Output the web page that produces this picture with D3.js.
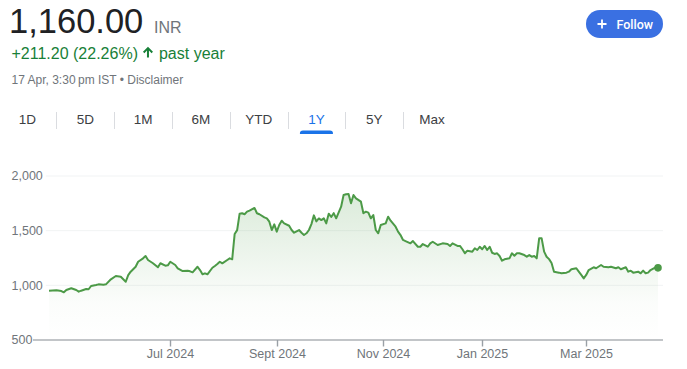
<!DOCTYPE html>
<html><head><meta charset="utf-8">
<script src="https://cdn.jsdelivr.net/npm/d3@7"></script>
<style>
html,body{margin:0;padding:0;background:#fff;}
svg{display:block;font-family:"Liberation Sans",Arial,sans-serif;}
</style></head><body>
<svg id="c" width="687" height="369"></svg>
<script>
// ---- data ----
const priceText = "1,160.00";
const currency = "INR";
const changeText = "+211.20 (22.26%)";
const changeSuffix = "past year";
const stampText = "17 Apr, 3:30\u2009pm IST \u2022 Disclaimer";
const rangeLabels = ["1D","5D","1M","6M","YTD","1Y","5Y","Max"];
const selectedRange = "1Y";
const yTicks = [500, 1000, 1500, 2000];
const xTickDates = ["2024-07-01","2024-09-02","2024-11-01","2025-01-01","2025-03-03"];
const xTickLabels = ["Jul 2024","Sept 2024","Nov 2024","Jan 2025","Mar 2025"];
const holidays = ["2024-05-01","2024-05-20","2024-06-17","2024-07-17","2024-08-15","2024-10-02",
  "2024-11-15","2024-11-20","2024-12-25","2025-02-26","2025-03-14","2025-03-31","2025-04-10","2025-04-14"];
const dates = [
"2024-04-18","2024-04-23","2024-04-25","2024-04-26","2024-04-29","2024-05-02","2024-05-06","2024-05-07","2024-05-08","2024-05-10",
"2024-05-13","2024-05-14","2024-05-16","2024-05-17","2024-05-22","2024-05-23","2024-05-27","2024-05-29","2024-05-31","2024-06-04",
"2024-06-05","2024-06-06","2024-06-10","2024-06-11","2024-06-13","2024-06-14","2024-06-18","2024-06-20","2024-06-24","2024-06-25",
"2024-06-27","2024-06-28","2024-07-01","2024-07-03","2024-07-04","2024-07-08","2024-07-10","2024-07-11","2024-07-12","2024-07-16",
"2024-07-18","2024-07-19","2024-07-22","2024-07-23","2024-07-25","2024-07-26","2024-07-29","2024-07-30","2024-07-31","2024-08-02",
"2024-08-05","2024-08-06","2024-08-07","2024-08-08","2024-08-09","2024-08-12","2024-08-13","2024-08-14","2024-08-16","2024-08-20",
"2024-08-21","2024-08-22","2024-08-26","2024-08-27","2024-08-28","2024-08-29","2024-08-30","2024-09-02","2024-09-03","2024-09-04",
"2024-09-05","2024-09-09","2024-09-10","2024-09-11","2024-09-13","2024-09-16","2024-09-17","2024-09-18","2024-09-19","2024-09-20",
"2024-09-23","2024-09-24","2024-09-25","2024-09-26","2024-09-27","2024-09-30","2024-10-01","2024-10-03","2024-10-04","2024-10-07",
"2024-10-09","2024-10-10","2024-10-11","2024-10-14","2024-10-15","2024-10-16","2024-10-17","2024-10-21","2024-10-22","2024-10-23",
"2024-10-24","2024-10-25","2024-10-28","2024-10-29","2024-10-30","2024-10-31","2024-11-04","2024-11-05","2024-11-06","2024-11-08",
"2024-11-11","2024-11-12","2024-11-13","2024-11-14","2024-11-19","2024-11-21","2024-11-25","2024-11-26","2024-11-27","2024-11-29",
"2024-12-02","2024-12-03","2024-12-05","2024-12-09","2024-12-11","2024-12-12","2024-12-13","2024-12-17","2024-12-18","2024-12-19",
"2024-12-20","2024-12-23","2024-12-26","2024-12-27","2024-12-30","2024-12-31","2025-01-01","2025-01-02","2025-01-03","2025-01-06",
"2025-01-07","2025-01-08","2025-01-09","2025-01-10","2025-01-13","2025-01-14","2025-01-16","2025-01-17","2025-01-20","2025-01-21",
"2025-01-22","2025-01-24","2025-01-27","2025-01-28","2025-01-29","2025-01-30","2025-01-31","2025-02-03","2025-02-04","2025-02-05",
"2025-02-06","2025-02-07","2025-02-10","2025-02-11","2025-02-13","2025-02-14","2025-02-18","2025-02-19","2025-02-20","2025-02-24",
"2025-02-25","2025-02-27","2025-02-28","2025-03-03","2025-03-04","2025-03-06","2025-03-07","2025-03-11","2025-03-12","2025-03-17",
"2025-03-18","2025-03-20","2025-03-21","2025-03-24","2025-03-26","2025-03-27","2025-03-28","2025-04-01","2025-04-03","2025-04-04",
"2025-04-07","2025-04-08","2025-04-09","2025-04-11","2025-04-16","2025-04-17"];
const values = [
950,955,948,936,957,973,957,942,951,966,
964,994,1003,1009,1006,1009,1055,1085,1079,1033,
1094,1125,1170,1216,1247,1268,1232,1202,1165,1202,
1180,1183,1216,1186,1156,1131,1134,1128,1119,1170,
1140,1101,1110,1101,1161,1177,1195,1216,1201,1232,
1247,1238,1470,1505,1655,1659,1650,1674,1683,1708,
1659,1650,1622,1613,1582,1506,1558,1491,1552,1591,
1567,1545,1506,1481,1506,1481,1460,1476,1506,1560,
1640,1585,1612,1597,1613,1567,1655,1625,1660,1613,
1719,1826,1833,1835,1750,1826,1796,1765,1659,1674,
1665,1613,1643,1506,1476,1552,1567,1628,1591,1536,
1491,1460,1415,1405,1384,1405,1353,1353,1378,1353,
1384,1399,1369,1384,1378,1360,1384,1360,1360,1330,
1293,1317,1308,1339,1323,1353,1330,1360,1323,1353,
1298,1287,1293,1268,1225,1238,1247,1293,1271,1293,
1293,1277,1262,1277,1262,1268,1247,1430,1430,1308,
1262,1240,1205,1125,1116,1110,1116,1125,1147,1156,
1125,1095,1064,1095,1140,1165,1156,1186,1170,1165,
1170,1156,1165,1147,1165,1125,1134,1116,1125,1110,
1134,1110,1116,1140,1165,1160];

// ---- styles ----
const GREEN_LINE = "#4c9a47";
const GREEN_TEXT = "#188038";
const BLUE = "#1a73e8";
const GRAY_TEXT = "#70757a";
const DARK_TEXT = "#202124";

const svg = d3.select("#c");
const fmt = d3.timeFormat("%Y-%m-%d");
const parse = d3.timeParse("%Y-%m-%d");

// trading calendar (weekdays minus exchange holidays)
const holidaySet = new Set(holidays);
const tradingDays = d3.timeDay.range(parse(dates[0]), d3.timeDay.offset(parse(dates[dates.length-1]), 1))
  .filter(d => d.getDay() !== 0 && d.getDay() !== 6 && !holidaySet.has(fmt(d)));
const dayIndex = new Map(tradingDays.map((d, i) => [fmt(d), i]));

const data = dates.map((d, i) => ({ idx: dayIndex.get(d), v: values[i] }));

const x = d3.scaleLinear().domain([0, tradingDays.length - 1]).range([49, 658]);
const y = d3.scaleLinear().domain([500, 2000]).range([340, 176]);
const plotRight = 663;

// ---- header ----
svg.append("text").attr("x", 9).attr("y", 33).attr("font-size", 34.5).attr("fill", DARK_TEXT).text(priceText);
svg.append("text").attr("x", 154).attr("y", 33).attr("font-size", 16).attr("fill", GRAY_TEXT).text(currency);

const ch = svg.append("text").attr("x", 11.5).attr("y", 58.5).attr("font-size", 16).attr("fill", GREEN_TEXT).text(changeText);
const chW = ch.node().getComputedTextLength();
const ax = 11.5 + chW + 10;
svg.append("path")
  .attr("d", `M${ax},46.8 L${ax+5},51.8 L${ax+3.6},53.2 L${ax+1},50.6 L${ax+1},57.5 L${ax-1},57.5 L${ax-1},50.6 L${ax-3.6},53.2 L${ax-5},51.8 Z`)
  .attr("fill", GREEN_TEXT);
svg.append("text").attr("x", ax + 11).attr("y", 58.5).attr("font-size", 16).attr("fill", GREEN_TEXT).text(changeSuffix);

svg.append("text").attr("x", 11.5).attr("y", 84).attr("font-size", 12).attr("fill", GRAY_TEXT).text(stampText);

// Follow button
const fb = svg.append("g");
fb.append("rect").attr("x", 586).attr("y", 10).attr("width", 77).attr("height", 28).attr("rx", 14).attr("fill", "#3a70e2");
fb.append("path").attr("d", "M597.5,24 H606.5 M602,19.5 V28.5").attr("stroke", "#fff").attr("stroke-width", 1.8);
fb.append("text").attr("x", 616.5).attr("y", 28.5).attr("font-size", 12.5).attr("font-family", "Roboto, Arial, sans-serif")
  .attr("font-weight", 500).attr("fill", "#fff").text("Follow");

// range tabs
const tabX = d3.scalePoint().domain(rangeLabels).range([27.5, 432]);
const tabs = svg.append("g");
rangeLabels.forEach((r, i) => {
  tabs.append("text").attr("x", tabX(r)).attr("y", 124).attr("text-anchor", "middle")
    .attr("font-size", 13.5).attr("fill", r === selectedRange ? BLUE : "#3c4043").text(r);
  if (i < rangeLabels.length - 1) {
    const sx = Math.round((tabX(r) + tabX(rangeLabels[i+1])) / 2) + 0.5;
    tabs.append("line").attr("x1", sx).attr("x2", sx).attr("y1", 112).attr("y2", 129).attr("stroke", "#dadce0");
  }
});
const ux = tabX(selectedRange);
tabs.append("path")
  .attr("d", `M${ux-16.5},134 V133 Q${ux-16.5},130.5 ${ux-13.5},130.5 H${ux+13.5} Q${ux+16.5},130.5 ${ux+16.5},133 V134 Z`)
  .attr("fill", BLUE);

// ---- chart ----
const defs = svg.append("defs");
const grad = defs.append("linearGradient").attr("id", "g").attr("gradientUnits", "userSpaceOnUse")
  .attr("x1", 0).attr("x2", 0).attr("y1", y(d3.max(values))).attr("y2", y(500));
grad.append("stop").attr("offset", 0).attr("stop-color", GREEN_LINE).attr("stop-opacity", 0.2);
grad.append("stop").attr("offset", 0.75).attr("stop-color", GREEN_LINE).attr("stop-opacity", 0.02);
grad.append("stop").attr("offset", 1).attr("stop-color", GREEN_LINE).attr("stop-opacity", 0);

// y labels + gridlines
yTicks.forEach(t => {
  const lbl = svg.append("text").attr("x", 11.5).attr("y", y(t)).attr("dy", "0.35em")
    .attr("font-size", 12.5).attr("fill", GRAY_TEXT).text(d3.format(",")(t));
  const w = lbl.node().getComputedTextLength();
  if (t !== 500) {
    svg.append("line").attr("x1", 11.5 + w + 3).attr("x2", plotRight).attr("y1", y(t)).attr("y2", y(t))
      .attr("stroke", "#f1f3f4").attr("stroke-width", 1);
  }
});

// area + line
svg.append("path").datum(data)
  .attr("d", d3.area().x(d => x(d.idx)).y0(y(500)).y1(d => y(d.v)))
  .attr("fill", "url(#g)");
svg.append("path").datum(data)
  .attr("d", d3.line().x(d => x(d.idx)).y(d => y(d.v)))
  .attr("fill", "none").attr("stroke", GREEN_LINE).attr("stroke-width", 2).attr("stroke-linejoin", "round");

// x axis
svg.append("line").attr("x1", 33).attr("x2", plotRight).attr("y1", y(500)).attr("y2", y(500))
  .attr("stroke", "#aeb2b6").attr("stroke-width", 1.6);
xTickDates.forEach((d, i) => {
  const px = Math.round(x(dayIndex.get(d))) + 0.5;
  svg.append("line").attr("x1", px).attr("x2", px).attr("y1", y(500)).attr("y2", y(500) + 6.5)
    .attr("stroke", "#9aa0a6").attr("stroke-width", 1.4);
  svg.append("text").attr("x", px).attr("y", 357.5).attr("text-anchor", "middle")
    .attr("font-size", 12.5).attr("fill", GRAY_TEXT).text(xTickLabels[i]);
});

// end dot
const last = data[data.length - 1];
svg.append("circle").attr("cx", x(last.idx)).attr("cy", y(last.v)).attr("r", 3.8).attr("fill", GREEN_LINE);
</script>
</body></html>
